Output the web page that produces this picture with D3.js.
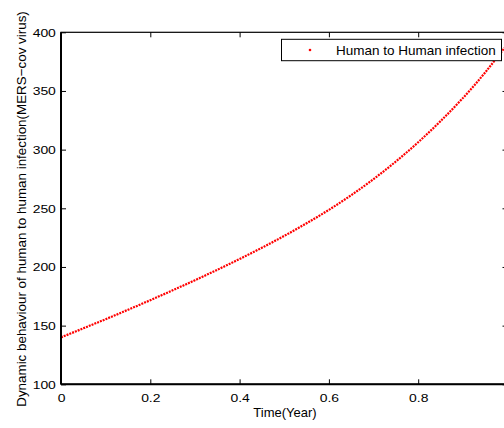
<!DOCTYPE html>
<html>
<head>
<meta charset="utf-8">
<script src="https://cdn.jsdelivr.net/npm/d3@7"></script>
<style>
  body { margin: 0; background: #fff; }
  svg { display: block; }
  text { font-family: "Liberation Sans", Arial, sans-serif; fill: #000; }
</style>
</head>
<body>
<script>
// Data
const timeYear = [0, 0.05, 0.1, 0.15, 0.2, 0.25, 0.3, 0.35, 0.4, 0.45, 0.5,
                  0.55, 0.6, 0.65, 0.7, 0.75, 0.8, 0.85, 0.9, 0.95, 1.0];
const infection = [140, 147.7, 155.5, 163.5, 171.7, 180.1, 188.7, 197.6, 206.8, 216.4, 226.5,
                   237.2, 248.7, 261.2, 274.9, 289.9, 306.3, 324.3, 343.9, 365.8, 390];
const xTicks = [0, 0.2, 0.4, 0.6, 0.8];
const xTickLabels = ["0", "0.2", "0.4", "0.6", "0.8"];
const yTicks = [100, 150, 200, 250, 300, 350, 400];
const seriesName = "Human to Human infection";

const width = 504, height = 428;
const margin = { left: 61, top: 32.3, right: -3.5, bottom: 43.7 };
const plotW = width - margin.left - margin.right;
const plotH = height - margin.top - margin.bottom;

const svg = d3.select("body").append("svg")
    .attr("width", width)
    .attr("height", height);

svg.append("rect").attr("width", width).attr("height", height).attr("fill", "#fff");

const x = d3.scaleLinear().domain([0, 1]).range([margin.left, margin.left + plotW]);
const y = d3.scaleLinear().domain([100, 400]).range([margin.top + plotH, margin.top]);

// Clip
svg.append("clipPath").attr("id", "plotClip")
  .append("rect")
    .attr("x", x(0)).attr("y", y(400))
    .attr("width", x(1) - x(0)).attr("height", y(100) - y(400));

// Series (MATLAB 'r.' markers)
const data = timeYear.map((t, i) => ({ t, v: infection[i] }));
const line = d3.line().x(d => x(d.t)).y(d => y(d.v)).curve(d3.curveNatural);

svg.append("path")
    .datum(data)
    .attr("clip-path", "url(#plotClip)")
    .attr("d", line)
    .attr("fill", "none")
    .attr("stroke", "#ff0000")
    .attr("stroke-width", 2.2)
    .attr("stroke-dasharray", "2 1");

// Axes with inward ticks
const stretch = "scale(1.2,1)";
const xAxis = d3.axisBottom(x).tickValues(xTicks).tickFormat((d, i) => xTickLabels[i])
    .tickSizeInner(-5).tickSizeOuter(0).tickPadding(-1);
const gx = svg.append("g").attr("transform", `translate(0,${y(100)})`).call(xAxis);
gx.selectAll("text").attr("font-size", 11.6).attr("y", 17.4).attr("dy", null)
    .attr("transform", stretch);

svg.append("g").attr("transform", `translate(0,${y(400)})`)
    .call(d3.axisTop(x).tickValues(xTicks).tickFormat("").tickSizeInner(-5).tickSizeOuter(0));

const yAxis = d3.axisLeft(y).tickValues(yTicks).tickSizeInner(-5).tickSizeOuter(0);
const gy = svg.append("g").attr("transform", `translate(${x(0)},0)`).call(yAxis);
gy.selectAll("text").attr("font-size", 11.6).attr("x", -4.3).attr("dy", "0.34em")
    .attr("transform", stretch);

svg.append("g").attr("transform", `translate(${x(1)},0)`)
    .call(d3.axisRight(y).tickValues(yTicks).tickFormat("").tickSizeInner(-5).tickSizeOuter(0));

svg.selectAll(".domain").remove();
svg.selectAll(".tick line").attr("stroke", "#000").attr("stroke-width", 1);

// Frame
svg.append("rect")
    .attr("x", x(0)).attr("y", y(400))
    .attr("width", x(1) - x(0)).attr("height", y(100) - y(400))
    .attr("fill", "none").attr("stroke", "#000").attr("stroke-width", 1.2);
svg.append("line").attr("x1", x(0)).attr("x2", x(1)).attr("y1", y(100)).attr("y2", y(100))
    .attr("stroke", "#000").attr("stroke-width", 2);
svg.append("line").attr("x1", x(0)).attr("x2", x(0)).attr("y1", y(400)).attr("y2", y(100))
    .attr("stroke", "#000").attr("stroke-width", 2);

// Axis titles
svg.append("text")
    .attr("x", 285).attr("y", 417.3)
    .attr("text-anchor", "middle")
    .attr("font-size", 13)
    .text("Time(Year)");

svg.append("text")
    .attr("transform", "translate(26,209) rotate(-90)")
    .attr("text-anchor", "middle")
    .attr("font-size", 13.4)
    .text("Dynamic behaviour of human to human infection(MERS\u2212cov virus)");

// Legend
const legend = svg.append("g");
legend.append("rect")
    .attr("x", 281.5).attr("y", 39.3).attr("width", 220).attr("height", 21.4)
    .attr("fill", "#fff").attr("stroke", "#000").attr("stroke-width", 1);
legend.append("circle").attr("cx", 310).attr("cy", 50).attr("r", 1.3).attr("fill", "#ff0000");
legend.append("text")
    .attr("x", 336).attr("y", 55)
    .attr("font-size", 13.5)
    .text(seriesName);
</script>
</body>
</html>
